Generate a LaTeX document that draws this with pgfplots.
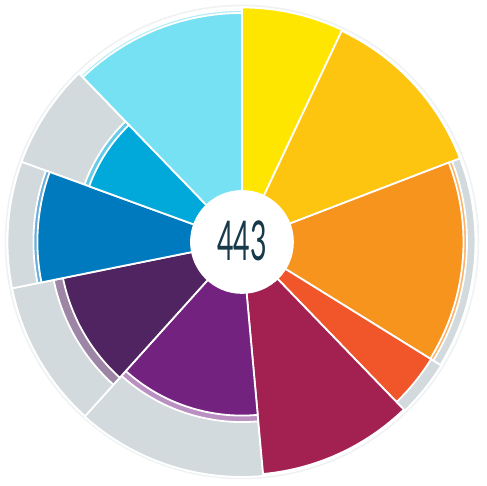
\documentclass[border=0pt]{standalone}
\usepackage{fontspec}
\setmainfont{Lato}
\usepackage{pgfplots}
\pgfplotsset{compat=1.18}
\definecolor{cYellow}{HTML}{FFE600}
\definecolor{cGold}{HTML}{FDC50F}
\definecolor{cOrange}{HTML}{F7941E}
\definecolor{cOrangeR}{HTML}{FBB26A}
\definecolor{cRed}{HTML}{F05629}
\definecolor{cCrimson}{HTML}{A32150}
\definecolor{cPurple}{HTML}{742280}
\definecolor{cPurpleR}{HTML}{BA90C2}
\definecolor{cDPurple}{HTML}{502460}
\definecolor{cDPurpleR}{HTML}{9D85A5}
\definecolor{cBlue}{HTML}{007ABE}
\definecolor{cBlueR}{HTML}{6AAEDA}
\definecolor{cCyan}{HTML}{00A9DA}
\definecolor{cCyanR}{HTML}{66CBE9}
\definecolor{cLCyan}{HTML}{76E1F3}
\definecolor{cLCyanR}{HTML}{ABEDF8}
\definecolor{cGrey}{HTML}{D2DADD}
\definecolor{cFaint}{HTML}{EFF2F3}
\definecolor{cText}{HTML}{17394A}
\begin{document}
\begin{tikzpicture}
\begin{axis}[
  x=1pt, y=1pt,
  xmin=-242.5, xmax=242.5, ymin=-244.5, ymax=242.5,
  axis line style={draw=none}, ticks=none, clip=false,
  sector/.style={draw=white, line width=1.8pt, data cs=polar},
]
% faint outer ring
\addplot[draw=cFaint, line width=1.6pt, data cs=polar] coordinates {(0,237)} arc[start angle=0, end angle=360, radius=237pt];
% grey background sectors
\addplot[sector, fill=cGrey] coordinates {(0,0) (21,234)} arc[start angle=21, end angle=-31.8, radius=234pt] -- cycle;
\addplot[sector, fill=cGrey] coordinates {(0,0) (-31.8,235)} arc[start angle=-31.8, end angle=-46, radius=235pt] -- cycle;
\addplot[sector, fill=cGrey] coordinates {(0,0) (-84.8,235.5)} arc[start angle=-84.8, end angle=-132, radius=235.5pt] -- cycle;
\addplot[sector, fill=cGrey] coordinates {(0,0) (-132,235)} arc[start angle=-132, end angle=-168.6, radius=235pt] -- cycle;
\addplot[sector, fill=cGrey] coordinates {(0,0) (-168.6,235)} arc[start angle=-168.6, end angle=-200, radius=235pt] -- cycle;
\addplot[sector, fill=cGrey] coordinates {(0,0) (-200,235)} arc[start angle=-200, end angle=-226, radius=235pt] -- cycle;
% light rings
\addplot[sector, fill=cOrangeR] coordinates {(0,0) (21,225.5)} arc[start angle=21, end angle=-31.8, radius=225.5pt] -- cycle;
\addplot[sector, fill=cPurpleR] coordinates {(0,0) (-84.8,180.5)} arc[start angle=-84.8, end angle=-132, radius=180.5pt] -- cycle;
\addplot[sector, fill=cDPurpleR] coordinates {(0,0) (-132,192.5)} arc[start angle=-132, end angle=-168.6, radius=192.5pt] -- cycle;
\addplot[sector, fill=cBlueR] coordinates {(0,0) (-168.6,209)} arc[start angle=-168.6, end angle=-200, radius=209pt] -- cycle;
\addplot[sector, fill=cCyanR] coordinates {(0,0) (-200,168)} arc[start angle=-200, end angle=-226, radius=168pt] -- cycle;
\addplot[sector, fill=cLCyanR] coordinates {(0,0) (-226,232.5)} arc[start angle=-226, end angle=-270, radius=232.5pt] -- cycle;
% coloured sectors
\addplot[sector, fill=cYellow] coordinates {(0,0) (90,235)} arc[start angle=90, end angle=64.7, radius=235pt] -- cycle;
\addplot[sector, fill=cGold] coordinates {(0,0) (64.7,234)} arc[start angle=64.7, end angle=21, radius=234pt] -- cycle;
\addplot[sector, fill=cOrange] coordinates {(0,0) (21,222)} arc[start angle=21, end angle=-31.8, radius=222pt] -- cycle;
\addplot[sector, fill=cRed] coordinates {(0,0) (-31.8,223)} arc[start angle=-31.8, end angle=-46, radius=223pt] -- cycle;
\addplot[sector, fill=cCrimson] coordinates {(0,0) (-46,233.5)} arc[start angle=-46, end angle=-84.8, radius=233.5pt] -- cycle;
\addplot[sector, fill=cPurple] coordinates {(0,0) (-84.8,174)} arc[start angle=-84.8, end angle=-132, radius=174pt] -- cycle;
\addplot[sector, fill=cDPurple] coordinates {(0,0) (-132,183)} arc[start angle=-132, end angle=-168.6, radius=183pt] -- cycle;
\addplot[sector, fill=cBlue] coordinates {(0,0) (-168.6,205)} arc[start angle=-168.6, end angle=-200, radius=205pt] -- cycle;
\addplot[sector, fill=cCyan] coordinates {(0,0) (-200,163)} arc[start angle=-200, end angle=-226, radius=163pt] -- cycle;
\addplot[sector, fill=cLCyan] coordinates {(0,0) (-226,229.5)} arc[start angle=-226, end angle=-270, radius=229.5pt] -- cycle;
% centre disc
\addplot[fill=white, draw=none, data cs=polar] coordinates {(0,52)} arc[start angle=0, end angle=360, radius=52pt] -- cycle;
\node[text=cText, inner sep=0pt] at (axis cs:0,1.5) {\scalebox{0.52}[1]{\fontsize{55}{55}\selectfont 443}};
\end{axis}
\end{tikzpicture}
\end{document}
